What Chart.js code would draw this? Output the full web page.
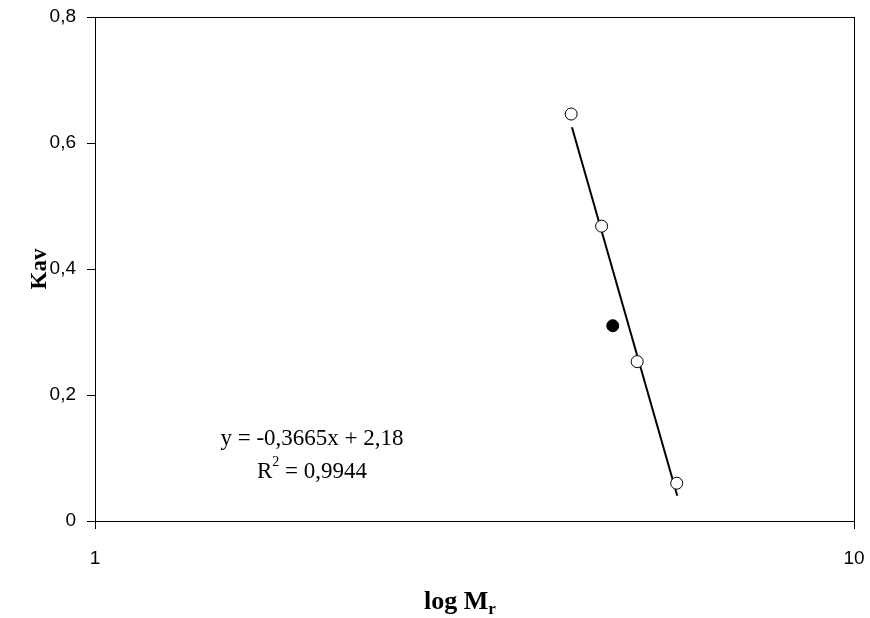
<!DOCTYPE html>
<html>
<head>
<meta charset="utf-8">
<script src="https://cdn.jsdelivr.net/npm/chart.js@4/dist/chart.umd.min.js"></script>
<style>
  html, body { margin: 0; padding: 0; background: #fff; }
  #wrap { width: 870px; height: 618px; }
</style>
</head>
<body>
<div id="wrap"><canvas id="chart-kav"></canvas></div>
<script>
// points mesurés (cercles ouverts)
const logMr = [4.24, 4.65, 5.18, 5.84];
const kav = [0.646, 0.468, 0.253, 0.060];
// point inconnu (cercle plein)
const unknownLogMr = [4.81];
const unknownKav = [0.31];
// droite de tendance y = -0,3665x + 2,18
const trendX = [4.25, 5.85];
const trendY = [0.625, 0.04];

const yTicks = [0, 0.2, 0.4, 0.6, 0.8];
const xTicks = [1, 10];
const equation = 'y = -0,3665x + 2,18';
const r2Label = 'R';
const r2Value = ' = 0,9944';

function toPoints(xs, ys) {
    return xs.map(function (x, i) { return {x: x, y: ys[i]}; });
}

// ____ textes: titres des axes, équation, cadre ____
const decor = {
    id: 'decor',
    afterDraw: function (chart) {
        let ctx = chart.ctx;
        let area = chart.chartArea;
        ctx.save();
        ctx.strokeStyle = '#000';
        ctx.lineWidth = 1;
        ctx.strokeRect(area.left + 0.5, area.top + 0.5, area.right - area.left, area.bottom - area.top);

        ctx.fillStyle = '#000';
        // Kav
        ctx.font = 'bold 23px "Liberation Serif"';
        ctx.textAlign = 'center';
        ctx.textBaseline = 'middle';
        ctx.save();
        ctx.translate(40, 269);
        ctx.rotate(-Math.PI / 2);
        ctx.fillText('Kav', 0, 0);
        ctx.restore();

        // log Mr
        ctx.textAlign = 'left';
        ctx.textBaseline = 'alphabetic';
        let main = 'log M';
        ctx.font = 'bold 26px "Liberation Serif"';
        let w1 = ctx.measureText(main).width;
        ctx.font = 'bold 17px "Liberation Serif"';
        let w2 = ctx.measureText('r').width;
        let x0 = 460 - (w1 + w2) / 2;
        ctx.font = 'bold 26px "Liberation Serif"';
        ctx.fillText(main, x0, 609);
        ctx.font = 'bold 17px "Liberation Serif"';
        ctx.fillText('r', x0 + w1, 614);

        // equation
        ctx.font = '23px "Liberation Serif"';
        ctx.textAlign = 'center';
        ctx.fillText(equation, 312, 445);
        ctx.textAlign = 'left';
        let wr = ctx.measureText(r2Label).width;
        let wv = ctx.measureText(r2Value).width;
        ctx.font = '14px "Liberation Serif"';
        let ws = ctx.measureText('2').width;
        let rx = 312 - (wr + ws + wv) / 2;
        ctx.font = '23px "Liberation Serif"';
        ctx.fillText(r2Label, rx, 478);
        ctx.font = '14px "Liberation Serif"';
        ctx.fillText('2', rx + wr, 466);
        ctx.font = '23px "Liberation Serif"';
        ctx.fillText(r2Value, rx + wr + ws, 478);
        ctx.restore();
    }
};

new Chart(
    document.getElementById('chart-kav'),
    {
        type: 'scatter',
        data: {
            datasets: [
                {
                    label: 'tendance',
                    type: 'line',
                    data: toPoints(trendX, trendY),
                    borderColor: '#000',
                    borderWidth: 2,
                    pointRadius: 0,
                    fill: false,
                    order: 2
                },
                {
                    label: 'Kav',
                    data: toPoints(logMr, kav),
                    pointRadius: 6,
                    pointBorderWidth: 1,
                    pointBackgroundColor: '#fff',
                    pointBorderColor: '#000',
                    order: 1
                },
                {
                    label: 'inconnu',
                    data: toPoints(unknownLogMr, unknownKav),
                    pointRadius: 6,
                    pointBorderWidth: 1,
                    pointBackgroundColor: '#000',
                    pointBorderColor: '#000',
                    order: 1
                }
            ]
        },
        options: {
            responsive: true,
            maintainAspectRatio: false,
            animation: false,
            layout: { padding: { left: 0, right: 16, top: 17, bottom: 0 } },
            plugins: {
                legend: { display: false },
                tooltip: { enabled: false }
            },
            scales: {
                x: {
                    type: 'logarithmic',
                    min: 1,
                    max: 10,
                    afterFit: function (scale) {
                        scale.height = 97;
                        scale.paddingLeft = 0;
                        scale.paddingRight = 0;
                    },
                    afterBuildTicks: function (scale) {
                        scale.ticks = xTicks.map(function (v) { return {value: v}; });
                    },
                    border: { color: '#000', width: 1 },
                    grid: {
                        drawOnChartArea: false,
                        color: '#000',
                        tickLength: 8,
                        tickWidth: 1
                    },
                    ticks: {
                        color: '#000',
                        font: { family: 'Liberation Sans', size: 19 },
                        padding: 18,
                        maxRotation: 0,
                        autoSkip: false,
                        callback: function (value) { return String(value); }
                    }
                },
                y: {
                    min: 0,
                    max: 0.8,
                    afterFit: function (scale) {
                        scale.width = 95;
                        scale.paddingTop = 0;
                        scale.paddingBottom = 0;
                    },
                    afterBuildTicks: function (scale) {
                        scale.ticks = yTicks.map(function (v) { return {value: v}; });
                    },
                    border: { color: '#000', width: 1 },
                    grid: {
                        drawOnChartArea: false,
                        color: '#000',
                        tickLength: 8,
                        tickWidth: 1
                    },
                    ticks: {
                        color: '#000',
                        font: { family: 'Liberation Sans', size: 19 },
                        padding: 11,
                        callback: function (value) { return String(value).replace('.', ','); }
                    }
                }
            }
        },
        plugins: [decor]
    }
);
</script>
</body>
</html>
